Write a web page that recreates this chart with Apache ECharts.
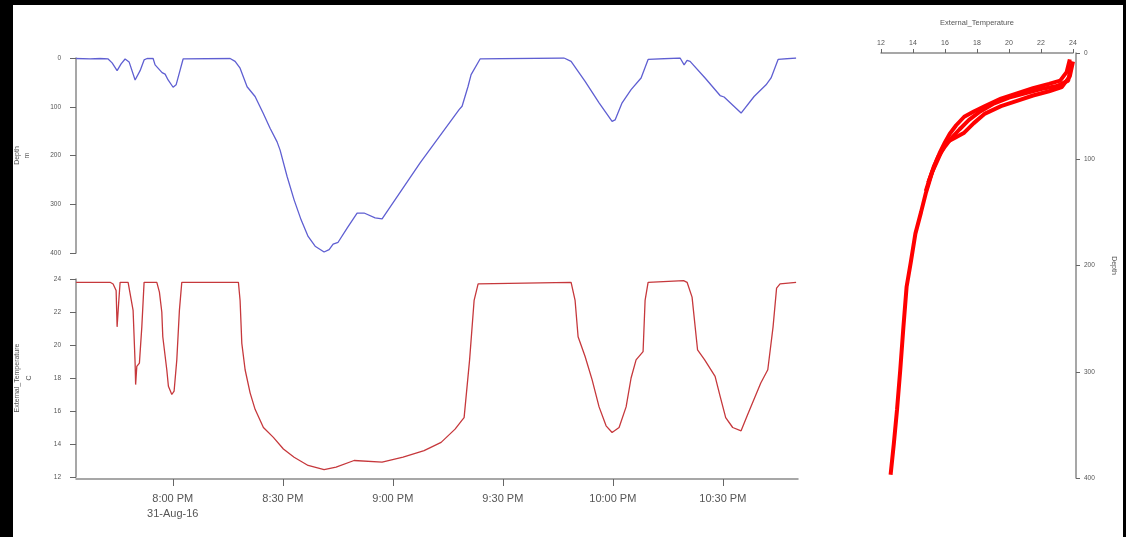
<!DOCTYPE html>
<html>
<head>
<meta charset="utf-8">
<script src="https://cdn.jsdelivr.net/npm/echarts@6/dist/echarts.min.js"></script>
<style>
html,body{margin:0;padding:0;background:#000;}
#frame{position:absolute;left:13px;top:5px;width:1110px;height:532px;background:#fff;}
#chart{position:absolute;left:0;top:0;width:1126px;height:537px;}
</style>
</head>
<body>
<div id="frame"></div>
<div id="chart"></div>
<script>
// Time in minutes after 8:00 PM, 31-Aug-16
const depthTime = [-26.37,-22.55,-19.83,-17.64,-16.55,-15.19,-14.10,-13.01,-11.92,-10.28,-9.74,-8.92,-7.83,-7.01,-5.37,-4.83,-2.92,-2.10,-1.28,0.08,0.90,1.99,2.81,15.63,16.99,18.35,20.26,22.44,24.62,26.53,28.44,29.26,31.17,33.08,34.99,36.90,38.81,41.26,42.63,43.72,45.08,47.54,50.26,52.17,55.17,57.08,67.44,78.08,78.89,80.53,81.35,83.80,106.71,108.62,112.44,116.25,119.80,120.62,122.53,124.98,127.71,129.62,138.35,139.44,140.25,141.07,145.16,149.25,150.34,154.98,158.52,161.79,163.16,165.07,169.98];
const depthValue = [1,2,1,2,10,26,12,2,8,45,43,26,4,1,1,14,30,33,45,60,55,25,2,1,7,21,59,79,113,144,172,189,243,291,332,366,386,398,393,382,378,349,318,318,328,330,215,106,99,58,34,2,0,7,48,92,130,127,92,65,41,3,0,14,5,7,41,77,80,113,79,55,41,3,0];

const tempTime = [-26.37,-17.10,-16.28,-15.46,-15.19,-14.78,-14.37,-12.19,-10.83,-10.28,-10.14,-9.82,-9.11,-8.45,-7.83,-4.36,-3.65,-3.00,-2.73,-1.64,-1.20,-0.27,0.35,1.09,1.80,2.45,17.89,18.35,18.82,19.72,21.08,22.44,24.71,27.43,30.16,33.08,36.90,41.26,44.53,49.44,57.08,62.80,68.53,73.17,76.98,78.89,79.44,80.94,82.17,83.26,108.62,109.71,110.53,112.44,114.34,116.25,118.16,119.80,121.71,123.62,124.98,126.34,128.25,128.80,129.62,139.30,140.25,141.61,143.11,145.05,147.89,149.25,150.78,152.69,154.98,156.89,160.35,162.26,163.70,164.66,165.61,169.98];
const tempValue = [23.8,23.8,23.7,23.3,21.1,22.5,23.8,23.8,22.1,18.9,17.6,18.7,18.9,21.1,23.8,23.8,23.2,22.0,20.5,18.5,17.5,17.0,17.2,19.1,22.1,23.8,23.8,22.7,20.1,18.5,17.1,16.1,15.0,14.4,13.7,13.2,12.7,12.45,12.6,13.0,12.9,13.2,13.6,14.1,14.9,15.45,15.6,19.1,22.7,23.7,23.8,22.7,20.5,19.3,17.9,16.25,15.1,14.7,15.0,16.25,18.0,19.1,19.6,22.7,23.8,23.9,23.8,22.9,19.7,19.1,18.1,16.9,15.6,15.0,14.8,15.85,17.7,18.5,21.1,23.45,23.7,23.8];

// Temperature / depth profiles (right panel)
const profileTempA = [23.8,23.6,23.2,22.5,21.5,20.5,19.5,18.5,17.8,17.2,16.7,16.3,16.0,15.7,15.45,15.2,14.95];
const profileDepthA = [6,18,26,29,33,38,43,50,55,60,68,76,84,93,102,112,122];
const profileTempB = [24.0,23.8,23.3,22.5,21.5,20.5,19.5,18.5,17.8,17.2,16.6,16.1,15.8,15.5,15.2,15.0,14.8,14.5,14.15,13.85,13.6,13.4,13.2,13.0,12.8,12.6];
const profileDepthB = [8,22,32,36,40,45,50,57,66,75,80,84,92,102,112,122,132,150,170,198,220,258,299,336,368,397];
const profileTempC = [23.9,23.7,23.0,22.0,21.0,20.0,19.0,18.2,17.5,16.9,16.4,16.0,15.6,15.3,15.05,14.8];
const profileDepthC = [10,26,31,34,38,42,48,55,63,72,80,88,97,107,118,130];

const tickMinutes = [0,30,60,90,120,150];
const tickLabels = ['8:00 PM\n31-Aug-16','8:30 PM','9:00 PM','9:30 PM','10:00 PM','10:30 PM'];

const zip = (a,b) => a.map((v,i)=>[v,b[i]]);

const axisGray = '#8a8a8a';
const labelGray = '#555';
const font = 'Liberation Sans, Arial, sans-serif';

const chart = echarts.init(document.getElementById('chart'));
chart.setOption({
  backgroundColor: 'transparent',
  animation: false,
  grid: [
    {left: 76, top: 58, width: 722, height: 195},
    {left: 76, top: 279, width: 722, height: 198},
    {left: 881, top: 53, width: 192, height: 425}
  ],
  xAxis: [
    {gridIndex: 0, type: 'value', min: -26.4, max: 170.5, show: false},
    {gridIndex: 1, type: 'value', min: -26.4, max: 170.5, offset: 2,
      axisLine: {show: true, onZero: false, lineStyle: {color: axisGray, width: 1.5}},
      axisTick: {show: true, customValues: tickMinutes, length: 7, lineStyle: {color: '#666'}},
      axisLabel: {show: true, customValues: tickMinutes, color: labelGray, fontSize: 11, fontFamily: font, margin: 12, lineHeight: 15,
        formatter: v => { const i = tickMinutes.indexOf(v); return i >= 0 ? tickLabels[i] : ''; }},
      splitLine: {show: false}
    },
    {gridIndex: 2, type: 'value', position: 'top', min: 12, max: 24, interval: 2,
      name: 'External_Temperature', nameLocation: 'middle', nameGap: 26,
      nameTextStyle: {color: labelGray, fontSize: 7.5, fontFamily: font},
      axisLine: {show: true, onZero: false, lineStyle: {color: axisGray, width: 1.5}},
      axisTick: {show: true, length: 4, lineStyle: {color: '#666'}},
      axisLabel: {color: labelGray, fontSize: 7, fontFamily: font, margin: 6},
      splitLine: {show: false}
    }
  ],
  yAxis: [
    {gridIndex: 0, type: 'value', inverse: true, min: 0, max: 400, interval: 100,
      name: 'Depth\nm', nameLocation: 'middle', nameGap: 44, nameRotate: 90,
      nameTextStyle: {color: labelGray, fontSize: 7, fontFamily: font, lineHeight: 10},
      axisLine: {show: true, onZero: false, lineStyle: {color: axisGray, width: 1.5}},
      axisTick: {show: true, length: 6, lineStyle: {color: '#666'}},
      axisLabel: {color: labelGray, fontSize: 6.5, fontFamily: font, margin: 15},
      splitLine: {show: false}
    },
    {gridIndex: 1, type: 'value', min: 12, max: 24, interval: 2,
      name: 'External_Temperature\nC', nameLocation: 'middle', nameGap: 41, nameRotate: 90,
      nameTextStyle: {color: labelGray, fontSize: 7, fontFamily: font, lineHeight: 12},
      axisLine: {show: true, onZero: false, lineStyle: {color: axisGray, width: 1.5}},
      axisTick: {show: true, length: 6, lineStyle: {color: '#666'}},
      axisLabel: {color: labelGray, fontSize: 6.5, fontFamily: font, margin: 15},
      splitLine: {show: false}
    },
    {gridIndex: 2, type: 'value', position: 'right', inverse: true, min: 0, max: 400, interval: 100, offset: 3,
      name: 'Depth', nameLocation: 'middle', nameGap: 34, nameRotate: -90,
      nameTextStyle: {color: labelGray, fontSize: 7, fontFamily: font},
      axisLine: {show: true, onZero: false, lineStyle: {color: axisGray, width: 1.5}},
      axisTick: {show: true, length: 4, lineStyle: {color: '#666'}},
      axisLabel: {color: labelGray, fontSize: 6.5, fontFamily: font, margin: 8},
      splitLine: {show: false}
    }
  ],
  series: [
    {type: 'line', xAxisIndex: 0, yAxisIndex: 0, data: zip(depthTime, depthValue), showSymbol: false,
      lineStyle: {color: '#5f5fd2', width: 1.3}},
    {type: 'line', xAxisIndex: 1, yAxisIndex: 1, data: zip(tempTime, tempValue), showSymbol: false,
      lineStyle: {color: '#c6383c', width: 1.3}},
    {type: 'line', xAxisIndex: 2, yAxisIndex: 2, data: zip(profileTempA, profileDepthA), showSymbol: false,
      lineStyle: {color: '#ff0000', width: 4}},
    {type: 'line', xAxisIndex: 2, yAxisIndex: 2, data: zip(profileTempB, profileDepthB), showSymbol: false,
      lineStyle: {color: '#ff0000', width: 4}},
    {type: 'line', xAxisIndex: 2, yAxisIndex: 2, data: zip(profileTempC, profileDepthC), showSymbol: false,
      lineStyle: {color: '#ff0000', width: 4}}
  ]
});
</script>
</body>
</html>
